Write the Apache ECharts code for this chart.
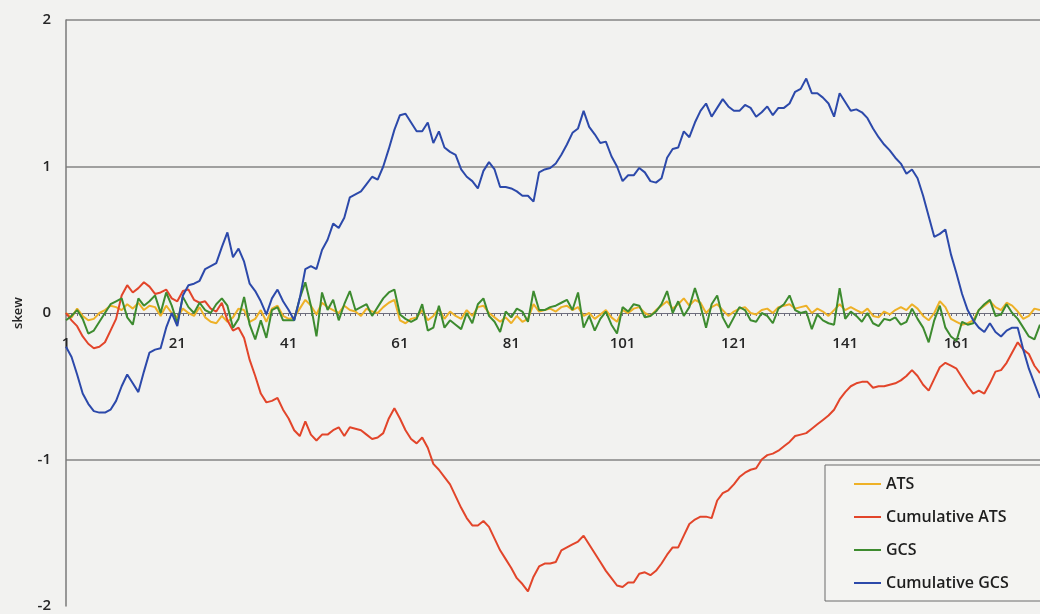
<!DOCTYPE html>
<html>
<head>
<meta charset="utf-8">
<script src="https://cdn.jsdelivr.net/npm/echarts@6/dist/echarts.min.js"></script>
<style>
  html, body { margin: 0; padding: 0; background: #f2f2f0; }
  #chart { width: 1040px; height: 614px; }
</style>
</head>
<body>
<div id="chart"></div>
<script>
// Window positions 1..176
const positions = Array.from({ length: 176 }, (_, i) => String(i + 1));

const yTicks = [-2, -1, 0, 1, 2];

// AT skew per window
const ats = [
  0.00,-0.03,0.03,-0.02,-0.05,-0.04,0.00,0.02,0.05,0.04,
  0.02,0.06,0.03,0.07,0.02,0.05,0.04,-0.02,0.05,0.00,
  -0.03,0.03,0.00,-0.02,0.04,-0.03,-0.06,-0.07,-0.02,-0.06,
  -0.03,0.03,0.02,-0.06,-0.04,0.02,-0.06,0.03,0.05,-0.02,
  -0.04,-0.03,0.03,0.09,0.05,-0.01,0.07,0.04,0.02,0.00,
  0.05,0.02,0.01,-0.02,0.03,0.01,0.00,0.04,0.07,0.09,
  -0.05,-0.07,-0.04,-0.03,0.02,-0.05,-0.02,0.03,-0.04,0.01,
  -0.02,-0.04,0.02,-0.02,0.04,0.05,0.00,-0.03,-0.06,-0.03,
  -0.07,-0.02,-0.06,-0.04,0.06,0.01,0.02,0.03,0.01,0.04,
  0.05,0.02,0.04,-0.02,0.00,-0.04,-0.01,0.02,-0.03,-0.06,
  0.02,0.00,0.03,0.04,0.00,-0.02,0.02,0.05,0.08,0.03,
  0.06,0.10,0.05,0.09,0.07,0.00,0.04,0.06,0.02,-0.02,
  0.01,0.03,0.04,0.00,-0.01,0.02,0.03,0.00,0.04,0.05,
  0.06,0.03,0.04,0.05,0.00,0.03,0.01,-0.02,0.02,0.06,
  0.02,0.04,0.02,0.00,0.03,-0.02,-0.03,0.01,-0.01,0.02,
  0.04,0.02,0.06,0.03,-0.02,-0.05,0.00,0.08,0.04,-0.04,
  -0.06,-0.08,-0.07,-0.05,0.02,0.05,0.08,0.04,0.02,0.07,
  0.05,0.01,-0.04,-0.02,0.03,0.02
];

// Running total of AT skew
const cumulativeAts = [
  0.00,-0.05,-0.09,-0.16,-0.21,-0.24,-0.23,-0.20,-0.12,-0.04,
  0.12,0.19,0.14,0.17,0.21,0.18,0.13,0.14,0.16,0.10,
  0.08,0.15,0.16,0.09,0.07,0.08,0.03,0.01,0.07,-0.05,
  -0.12,-0.10,-0.17,-0.32,-0.43,-0.55,-0.61,-0.60,-0.58,-0.66,
  -0.72,-0.80,-0.84,-0.74,-0.83,-0.87,-0.83,-0.83,-0.80,-0.78,
  -0.84,-0.78,-0.79,-0.80,-0.83,-0.86,-0.85,-0.82,-0.72,-0.65,
  -0.72,-0.80,-0.86,-0.89,-0.85,-0.92,-1.03,-1.07,-1.12,-1.17,
  -1.25,-1.33,-1.40,-1.45,-1.45,-1.42,-1.46,-1.54,-1.62,-1.68,
  -1.74,-1.81,-1.85,-1.90,-1.80,-1.73,-1.71,-1.71,-1.70,-1.62,
  -1.60,-1.58,-1.56,-1.52,-1.58,-1.64,-1.70,-1.76,-1.81,-1.86,
  -1.87,-1.84,-1.84,-1.78,-1.77,-1.79,-1.76,-1.71,-1.65,-1.60,
  -1.60,-1.52,-1.44,-1.41,-1.39,-1.39,-1.40,-1.28,-1.23,-1.21,
  -1.17,-1.12,-1.09,-1.07,-1.06,-1.00,-0.97,-0.96,-0.94,-0.91,
  -0.88,-0.84,-0.83,-0.82,-0.79,-0.76,-0.73,-0.70,-0.66,-0.59,
  -0.54,-0.50,-0.48,-0.47,-0.47,-0.51,-0.50,-0.50,-0.49,-0.48,
  -0.46,-0.43,-0.39,-0.43,-0.49,-0.53,-0.45,-0.37,-0.34,-0.36,
  -0.38,-0.44,-0.50,-0.55,-0.53,-0.55,-0.48,-0.40,-0.39,-0.34,
  -0.27,-0.20,-0.25,-0.28,-0.36,-0.41
];

// GC skew per window
const gcs = [
  -0.05,-0.02,0.02,-0.04,-0.14,-0.12,-0.06,0.00,0.06,0.08,
  0.10,-0.03,-0.08,0.10,0.05,0.08,0.12,0.00,0.14,0.05,
  -0.07,0.11,0.04,0.00,0.07,0.02,0.00,0.06,0.10,0.05,
  -0.10,-0.04,0.11,-0.08,-0.18,-0.05,-0.17,0.02,0.04,-0.05,
  -0.05,-0.05,0.10,0.21,0.05,-0.16,0.14,0.02,0.09,-0.05,
  0.06,0.15,0.02,0.04,0.06,-0.02,0.04,0.10,0.14,0.16,
  -0.01,-0.04,-0.06,-0.04,0.06,-0.12,-0.10,0.05,-0.10,-0.05,
  -0.08,-0.11,0.00,-0.07,0.06,0.10,-0.02,-0.06,-0.13,0.01,
  -0.03,0.03,0.01,-0.06,0.15,0.02,0.02,0.04,0.05,0.07,
  0.09,0.02,0.14,-0.10,-0.02,-0.12,-0.04,0.01,-0.08,-0.14,
  0.04,0.01,0.06,0.05,-0.03,-0.02,0.01,0.06,0.15,0.00,
  0.08,-0.02,0.04,0.17,0.05,-0.10,0.06,0.12,-0.03,-0.10,
  -0.03,0.04,0.02,-0.05,-0.06,0.00,-0.02,-0.07,0.03,0.06,
  0.12,0.02,0.00,0.01,-0.11,-0.01,-0.05,-0.07,-0.08,0.17,
  -0.04,0.01,-0.02,-0.06,0.00,-0.07,-0.09,-0.04,-0.05,-0.03,
  -0.08,-0.06,0.03,-0.04,-0.10,-0.20,-0.05,0.05,-0.10,-0.16,
  -0.19,-0.06,-0.08,-0.07,0.02,0.06,0.09,-0.02,-0.01,0.06,
  0.00,-0.04,-0.10,-0.16,-0.18,-0.08
];

// Running total of GC skew
const cumulativeGcs = [
  -0.23,-0.30,-0.42,-0.55,-0.62,-0.67,-0.68,-0.68,-0.66,-0.60,
  -0.50,-0.42,-0.48,-0.54,-0.40,-0.27,-0.25,-0.24,-0.10,0.00,
  -0.09,0.12,0.19,0.20,0.22,0.30,0.32,0.34,0.45,0.55,
  0.38,0.44,0.35,0.20,0.15,0.08,-0.01,0.10,0.16,0.08,
  0.02,-0.05,0.10,0.30,0.32,0.30,0.43,0.50,0.61,0.58,
  0.65,0.79,0.81,0.83,0.88,0.93,0.91,1.00,1.12,1.25,
  1.35,1.36,1.30,1.24,1.24,1.30,1.16,1.24,1.13,1.10,
  1.08,0.98,0.93,0.90,0.85,0.97,1.03,0.98,0.86,0.86,
  0.85,0.83,0.80,0.80,0.76,0.96,0.98,0.99,1.02,1.08,
  1.15,1.23,1.26,1.38,1.27,1.22,1.16,1.17,1.07,1.00,
  0.90,0.94,0.94,0.99,0.96,0.90,0.89,0.92,1.06,1.12,
  1.13,1.24,1.20,1.30,1.38,1.43,1.34,1.40,1.46,1.41,
  1.38,1.38,1.42,1.40,1.34,1.37,1.41,1.35,1.40,1.40,
  1.43,1.51,1.53,1.60,1.50,1.50,1.47,1.43,1.34,1.50,
  1.44,1.38,1.39,1.37,1.33,1.26,1.20,1.15,1.11,1.06,
  1.02,0.95,0.98,0.92,0.80,0.66,0.52,0.54,0.57,0.40,
  0.27,0.13,0.02,-0.05,-0.10,-0.13,-0.07,-0.13,-0.16,-0.12,
  -0.10,-0.10,-0.25,-0.38,-0.48,-0.58
];

const seriesNames = ['ATS', 'Cumulative ATS', 'GCS', 'Cumulative GCS'];
const seriesData = [ats, cumulativeAts, gcs, cumulativeGcs];
const seriesColors = ['#eeb127', '#e2452a', '#3d8b2f', '#2c49aa'];

const textFont = '"Open Sans", "DejaVu Sans", sans-serif';

// Plot box: top 20px, bottom edge at 606px, so the zero line sits at mid-height
const gridTop = 20;
const gridBottom = 8;
const plotHeight = 614 - gridTop - gridBottom;

const chart = echarts.init(document.getElementById('chart'), null, { renderer: 'canvas' });

chart.setOption({
  backgroundColor: '#f2f2f0',
  animation: false,
  grid: {
    left: 66, top: gridTop, right: 0, bottom: gridBottom,
    containLabel: false,
    outerBoundsMode: 'none'
  },
  legend: {
    data: seriesNames,
    orient: 'vertical',
    left: 825,
    top: 465,
    icon: 'rect',
    itemWidth: 27,
    itemHeight: 2,
    itemGap: 17,
    padding: [11, 60, 10, 29],
    borderColor: '#6a6a6a',
    borderWidth: 1,
    backgroundColor: '#f4f4f2',
    textStyle: {
      fontFamily: textFont,
      fontSize: 16,
      fontWeight: 600,
      color: '#1e1e1e',
      lineHeight: 16
    }
  },
  xAxis: {
    type: 'category',
    data: positions,
    boundaryGap: false,
    position: 'bottom',
    // raise the category axis from the plot bottom up to the zero line
    offset: -plotHeight / 2,
    axisLine: { onZero: false, lineStyle: { color: '#6d6d7c', width: 1 } },
    axisTick: { show: true, interval: 0, length: 3, lineStyle: { color: '#6d6d7c' } },
    axisLabel: {
      interval: 19,
      margin: 23,
      fontFamily: textFont,
      fontSize: 15,
      fontWeight: 600,
      color: '#262626'
    },
    splitLine: { show: false }
  },
  yAxis: {
    type: 'value',
    min: yTicks[0],
    max: yTicks[yTicks.length - 1],
    interval: 1,
    name: 'skew',
    nameLocation: 'middle',
    nameRotate: 90,
    nameGap: 41,
    nameTextStyle: {
      fontFamily: textFont,
      fontSize: 13,
      fontWeight: 600,
      color: '#262626'
    },
    axisLine: { show: true, lineStyle: { color: '#7a7a7a', width: 1.5 } },
    axisTick: { show: false },
    axisLabel: {
      margin: 15,
      fontFamily: textFont,
      fontSize: 15,
      fontWeight: 600,
      color: '#262626'
    },
    splitLine: {
      show: true,
      lineStyle: {
        color: ['rgba(0,0,0,0)', '#858585', 'rgba(0,0,0,0)', '#858585', '#858585'],
        width: 1.5
      }
    }
  },
  series: seriesNames.map((name, k) => ({
    name,
    type: 'line',
    data: seriesData[k],
    symbol: 'none',
    smooth: false,
    lineStyle: { color: seriesColors[k], width: 2 },
    itemStyle: { color: seriesColors[k] },
    z: 2 + k
  }))
});
</script>
</body>
</html>
